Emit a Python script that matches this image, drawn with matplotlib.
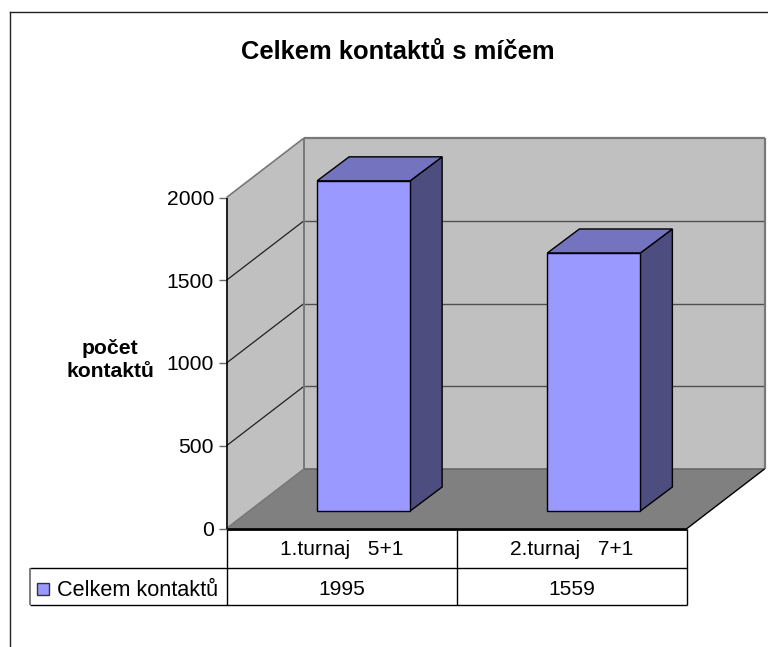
import matplotlib
matplotlib.use("Agg")
import matplotlib.pyplot as plt
from matplotlib.patches import Polygon, Rectangle
from matplotlib.lines import Line2D

plt.rcParams['font.family'] = ['Liberation Sans', 'DejaVu Sans']

title = "Celkem kontaktů s míčem"
categories = ["1.turnaj   5+1", "2.turnaj   7+1"]
series_name = "Celkem kontaktů"
values = [1995, 1559]
y_ticks = [0, 500, 1000, 1500, 2000]
y_label = "počet\nkontaktů"

W, H = 768, 647
fig = plt.figure(figsize=(W / 100, H / 100), dpi=100, facecolor="white")

# plot box in pixels
L, R, T, B = 226.5, 687.0, 197.5, 528.5
ax = fig.add_axes([L / W, 1 - B / H, (R - L) / W, (B - T) / H])
ax.set_xlim(0, 2)
ax.set_ylim(0, 2000)
ax.patch.set_visible(False)
for s in ax.spines.values():
    s.set_visible(False)

px = 2 / (R - L)          # category units per pixel
py = 2000 / (B - T)       # value units per pixel
DX, DY = 77.5 * px, 59.5 * py      # wall depth
bx, by = 32 * px, 24 * py          # bar depth
fx, fy = 22 * px, 17.5 * py        # bar front offset from the axis
bw = 93 * px


def poly(pts, fc, ec="none", lw=0.0, z=1):
    ax.add_patch(Polygon(pts, closed=True, facecolor=fc, edgecolor=ec, linewidth=lw,
                         zorder=z, clip_on=False, joinstyle="miter"))


def line(xs, ys, c="black", lw=1.0, z=2):
    ax.add_line(Line2D(xs, ys, color=c, linewidth=lw, zorder=z, clip_on=False,
                       solid_capstyle="butt"))


WALL, FLOOR, EDGE = "#C0C0C0", "#808080", "#787878"
ymax = y_ticks[-1]
poly([(0, 0), (DX, DY), (DX, ymax + DY), (0, ymax)], WALL, z=1)
poly([(DX, DY), (2 + DX, DY), (2 + DX, ymax + DY), (DX, ymax + DY)], WALL, z=1)
poly([(0, 0), (2, 0), (2 + DX, DY), (DX, DY)], FLOOR, z=1)

for v in y_ticks[1:-1]:
    line([0, DX], [v, v + DY], "#202020", 0.9)
    line([DX, 2 + DX], [v + DY, v + DY], "#505050", 1.0)
line([0, DX], [ymax, ymax + DY], EDGE, 1.2)
line([0, DX], [0, DY], EDGE, 1.2)
line([DX, DX], [DY, ymax + DY], EDGE, 1.4)
line([DX, 2 + DX], [ymax + DY, ymax + DY], EDGE, 1.6)
line([2 + DX, 2 + DX], [DY, ymax + DY], EDGE, 1.6)
line([DX, 2 + DX], [DY, DY], "#666666", 1.2)
line([2, 2 + DX], [0, DY], "black", 1.0)
line([0, 0], [0, ymax], "black", 1.2, z=3)
line([0, 2], [0, 0], "black", 2.0, z=3)

for i, v in enumerate(values):
    x0 = i + 0.5 - bw / 2 + fx
    x1 = x0 + bw
    y0 = fy
    y1 = fy + v
    kw = dict(ec="black", lw=1.0, z=5)
    poly([(x1, y0), (x1 + bx, y0 + by), (x1 + bx, y1 + by), (x1, y1)], "#4D4D80", **kw)
    poly([(x0, y1), (x1, y1), (x1 + bx, y1 + by), (x0 + bx, y1 + by)], "#7373BF", **kw)
    poly([(x0, y0), (x1, y0), (x1, y1), (x0, y1)], "#9999FF", **kw)

ax.set_yticks(y_ticks)
ax.set_yticklabels([str(v) for v in y_ticks], fontsize=15.2, color="black")
ax.tick_params(axis="y", length=6, width=1.0, color="#666666", pad=3)
ax.set_xticks([0.5, 1.5])
ax.set_xticklabels(categories, fontsize=15.1, color="black")
ax.tick_params(axis="x", length=0, pad=8)

# data table
R1, R2 = 567.5, 604.5
TL = 30.0


def yv(p):
    return (B - p) * py


def xv(p):
    return (p - L) * px


for p in (R1, R2):
    line([xv(TL), 2], [yv(p), yv(p)], "black", 1.0)
line([xv(TL), xv(TL)], [yv(R1), yv(R2)], "#666666", 1.2)
for xx in (0, 1, 2):
    line([xx, xx], [0, yv(R2)], "black", 1.0)
for i, v in enumerate(values):
    ax.text(i + 0.5, yv(589.5), str(v), ha="center", va="center", fontsize=15.1)
ax.add_patch(Rectangle((xv(37), yv(595)), 12 * px, 12 * py, facecolor="#9999FF",
                       edgecolor="#333333", linewidth=1.0, clip_on=False, zorder=4))
ax.text(xv(57), yv(591), series_name, ha="left", va="center", fontsize=15.6)

# titles and chart frame
fig.text(398 / W, 1 - 52 / H, title, ha="center", va="center", fontsize=18.4, fontweight="bold")
fig.text(110 / W, 1 - 360 / H, y_label, ha="center", va="center", fontsize=15.2,
         fontweight="bold", linespacing=1.3)
fig.add_artist(Line2D([9.5 / W, 9.5 / W, ], [0, 1 - 11.5 / H], color="#222222", linewidth=1.0))
fig.add_artist(Line2D([9.5 / W, 1], [1 - 11.5 / H, 1 - 11.5 / H], color="#222222", linewidth=1.0))

fig.savefig("out.png", dpi=100)
